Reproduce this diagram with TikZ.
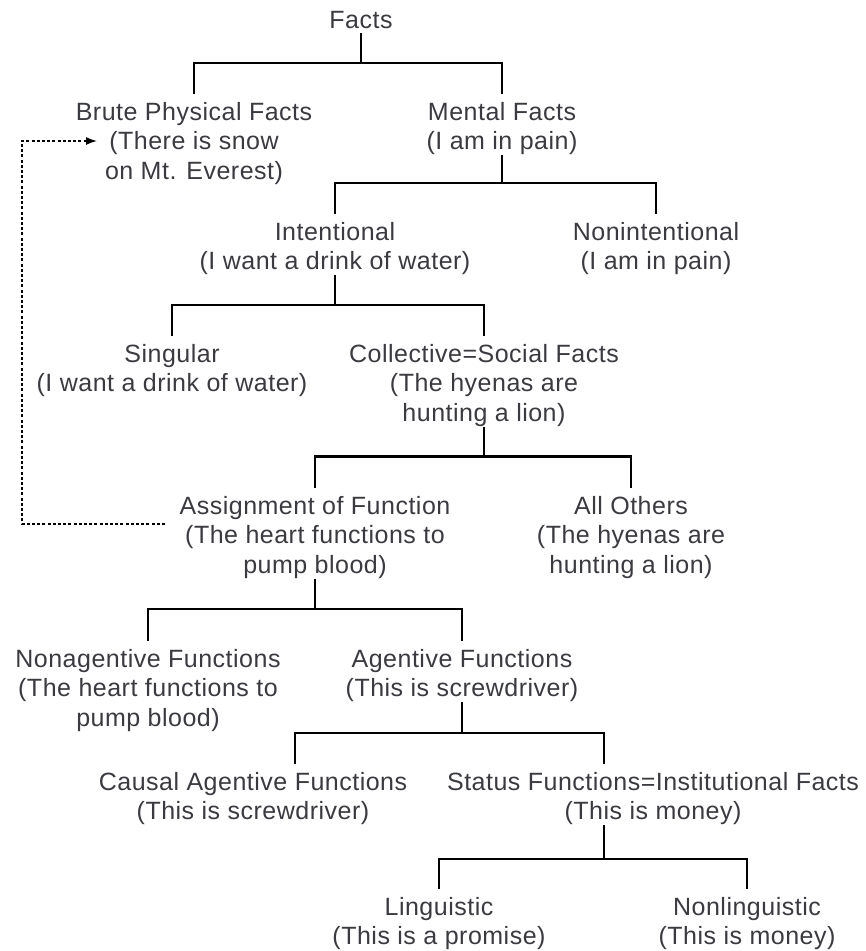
\documentclass[tikz,border=0pt]{standalone}
\usepackage{fontspec}
\setmainfont{Liberation Sans}[LetterSpace=2.0]
\usetikzlibrary{arrows.meta}
\definecolor{txtgray}{RGB}{58,58,64}
\tikzset{
  fact/.style={align=center, anchor=north, inner sep=0pt, text=txtgray,
    font=\fontsize{25}{29.5}\selectfont},
  branch/.style={line width=1.6pt},
  bigbranch/.style={line width=2.8pt},
  backlink/.style={line width=1.5pt, dash pattern=on 3pt off 2.2pt,
    -{Latex[length=11pt,width=8pt]}}
}
\begin{document}
\begin{tikzpicture}[x=1pt,y=-1pt]
\useasboundingbox (0,0) rectangle (866,951);
% raiz
\node[fact] (facts) at (361,11) {Facts};
% nivel 1
\node[fact] (brute) at (194,102) {Brute Physical Facts\\(There is snow\\on Mt. Everest)};
\node[fact] (mental) at (502,102) {Mental Facts\\(I am in pain)};
% nivel 2
\node[fact] (intent) at (335,222) {Intentional\\(I want a drink of water)};
\node[fact] (nonint) at (656,222) {Nonintentional\\(I am in pain)};
% nivel 3
\node[fact] (single) at (172,344) {Singular\\(I want a drink of water)};
\node[fact] (collect) at (484,344) {Collective=Social Facts\\(The hyenas are\\hunting a lion)};
% nivel 4
\node[fact] (assign) at (315,496) {Assignment of Function\\(The heart functions to\\pump blood)};
\node[fact] (others) at (631,496) {All Others\\(The hyenas are\\hunting a lion)};
% nivel 5
\node[fact] (nonag) at (148,649) {Nonagentive Functions\\(The heart functions to\\pump blood)};
\node[fact] (agent) at (462,649) {Agentive Functions\\(This is screwdriver)};
% nivel 6
\node[fact] (causal) at (253,772) {Causal Agentive Functions\\(This is screwdriver)};
\node[fact] (status) at (653,772) {Status Functions=Institutional Facts\\(This is money)};
% nivel 7
\node[fact] (ling) at (439,897) {Linguistic\\(This is a promise)};
\node[fact] (nonling) at (747,897) {Nonlinguistic\\(This is money)};
% ramas
\foreach \c in {brute,mental}
  \draw[branch] ([yshift=-4pt]facts.south) -- ++(0,30) -| ([yshift=8pt]\c.north);
\foreach \c in {intent,nonint}
  \draw[branch] (mental.south) -- ++(0,28) -| ([yshift=8pt]\c.north);
\foreach \c in {single,collect}
  \draw[branch] (intent.south) -- ++(0,30) -| ([yshift=8pt]\c.north);
\foreach \c in {assign,others}
  \draw[bigbranch] (collect.south) -- ++(0,30) -| ([yshift=8pt]\c.north);
\foreach \c in {nonag,agent}
  \draw[branch] (assign.south) -- ++(0,30) -| ([yshift=8pt]\c.north);
\draw[branch] (agent.south) -- ++(0,31) -| ([xshift=42pt,yshift=8pt]causal.north);
\draw[branch] (agent.south) -- ++(0,31) -| ([xshift=-49pt,yshift=8pt]status.north);
\foreach \c in {ling,nonling}
  \draw[branch] ([xshift=-49pt]status.south) -- ++(0,34) -| ([yshift=8pt]\c.north);
% flecha punteada de la asignacion a los hechos brutos
\coordinate (heart) at (165,524);
\coordinate (snow) at (97,141);
\draw[backlink] (heart) -| (22,141) -- (snow);
\end{tikzpicture}
\end{document}
